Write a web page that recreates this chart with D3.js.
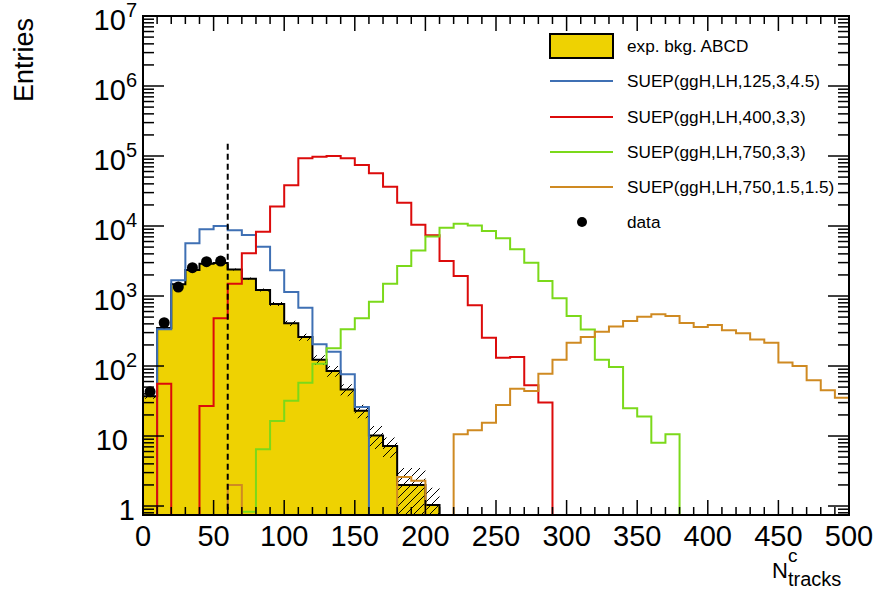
<!DOCTYPE html>
<html><head><meta charset="utf-8">
<script src="https://cdn.jsdelivr.net/npm/d3@7"></script>
<style>
body{margin:0;background:#fff}
svg{display:block}
text{font-family:"Liberation Sans",Arial,Helvetica,sans-serif;fill:#000}
</style>
</head><body>
<svg id="c" width="879" height="599"></svg>
<script>
// ---------------- data ----------------
const binLow = [0,10,20,30,40,50,60,70,80,90,100,110,120,130,140,150,160,170,180,190,
  200,210,220,230,240,250,260,270,280,290,300,310,320,330,340,350,360,370,380,390,
  400,410,420,430,440,450,460,470,480,490];
const binWidth = 10;

// exp. bkg. ABCD (bins 0..200)
const bkg = [37,350,1470,2350,2900,2950,2400,1770,1220,770,407,260,123,85,46,23,10.2,7.2,2.0,2.0,1.03];
const bkgErr = [3,10,40,60,70,70,80,70,60,50,35,30,20,15,9,5,3.7,2.3,1.5,1.5,0.8];

const sig125_3_45 = [0,335,1676,5660,8960,10000,8670,7430,5070,2330,1140,681,204,160,76,26];
const sig400_3_3 = [0,56,0,0,26.8,480,1500,4070,8300,19000,38100,92700,97800,100000,92700,74400,
  56500,36500,21500,10400,7400,3160,1930,736,254,131,134,53,30];
const sig750_3_3 = [0,0,0,0,0,0,0,0.83,6.45,16.4,32,57.8,108,179,334,480,830,1500,2690,4450,
  7100,9460,10800,10200,8480,6660,4640,2990,1640,927,518,332,123,97,25,19,8.0,10.6];
const sig750_15_15 = [0,0,0,0,0,0,2.0,0,0,0,0,0,0,0,0,0,0,0,2.6,2.3,0,0,10.6,12.1,15.5,27.7,47.4,44,
  77.6,123,215,260,309,367,439,504,547,518,410,361,385,324,293,240,215,112,100,62.4,45,35.3];

const dataBinLow = [0,10,20,30,40,50];
const dataVals = [43,415,1345,2540,3090,3160];

const cutX = 60;
const cutTop = 1.5e5;

const xMajorTicks = [0,50,100,150,200,250,300,350,400,450,500];
const yMajorTicks = [1,10,100,1e3,1e4,1e5,1e6,1e7];
const yTickBase = ["1","10","10","10","10","10","10","10"];
const yTickExp  = ["","","2","3","4","5","6","7"];

const legendLabels = ["exp. bkg. ABCD","SUEP(ggH,LH,125,3,4.5)","SUEP(ggH,LH,400,3,3)",
  "SUEP(ggH,LH,750,3,3)","SUEP(ggH,LH,750,1.5,1.5)","data"];

// ---------------- layout ----------------
const L = 143, R = 849, T = 16, B = 515;
const yMin = 0.744, yMax = 1e7;
const colors = {bkg:"#eed202", s1:"#3f70b4", s2:"#dc0b0b", s3:"#7bd91a", s4:"#cf8a22"};

const svg = d3.select("#c");
const x = d3.scaleLinear().domain([0,500]).range([L,R]);
const y = d3.scaleLog().domain([yMin,yMax]).range([B,T]);
const yv = v => y(Math.max(v, yMin));

svg.append("defs").append("clipPath").attr("id","clip")
  .append("rect").attr("x",L).attr("y",T).attr("width",R-L).attr("height",B-T);
const pat = svg.select("defs").append("pattern").attr("id","hatch")
  .attr("patternUnits","userSpaceOnUse").attr("width",8).attr("height",8);
pat.append("path").attr("d","M0,8 L8,0 M-2,2 L2,-2 M6,10 L10,6")
  .attr("stroke","#000").attr("stroke-width",1);

const plot = svg.append("g").attr("clip-path","url(#clip)");

function stepPts(vals){
  const pts = [[x(binLow[0]), B+2]];
  vals.forEach((v,i)=>{
    const yy = v>0 ? yv(v) : B+2;
    pts.push([x(binLow[i]), yy],[x(binLow[i]+binWidth), yy]);
  });
  pts.push([x(binLow[vals.length-1]+binWidth), B+2]);
  return pts;
}
const line = d3.line();

// bkg fill
plot.append("path").attr("d", line(stepPts(bkg))+"Z").attr("fill",colors.bkg).attr("stroke","none");

// hatch band
const bandPts = [];
bkg.forEach((v,i)=>{
  const top = yv(v+bkgErr[i]), bot = yv(Math.max(v-bkgErr[i], yMin*0.5));
  bandPts.push([x(binLow[i]),top,bot],[x(binLow[i]+binWidth),top,bot]);
});
plot.append("path").attr("d", d3.area().x(d=>d[0]).y0(d=>d[2]).y1(d=>d[1])(bandPts))
  .attr("fill","url(#hatch)").attr("stroke","none");

// bkg outline
plot.append("path").attr("d", line(stepPts(bkg))).attr("fill","none")
  .attr("stroke","#000").attr("stroke-width",2);

// signals
[[sig125_3_45,colors.s1],[sig400_3_3,colors.s2],[sig750_3_3,colors.s3],[sig750_15_15,colors.s4]]
.forEach(([vals,c])=>{
  plot.append("path").attr("d", line(stepPts(vals))).attr("fill","none")
    .attr("stroke",c).attr("stroke-width",2);
});

// dashed cut line
plot.append("line").attr("x1",x(cutX)).attr("x2",x(cutX)).attr("y1",y(cutTop)).attr("y2",B)
  .attr("stroke","#000").attr("stroke-width",2).attr("stroke-dasharray","6,4");

// data points
plot.selectAll("circle.d").data(dataVals).enter().append("circle")
  .attr("cx",(d,i)=>x(dataBinLow[i]+binWidth/2)).attr("cy",d=>y(d)).attr("r",5.5).attr("fill","#000");

// ---------------- axes ----------------
const xMinor = d3.range(0,501,10).filter(v=>v%50!==0);
const ax = svg.append("g").attr("stroke","#000").attr("stroke-width",1.5);
xMajorTicks.forEach(v=>{
  ax.append("line").attr("x1",x(v)).attr("x2",x(v)).attr("y1",B).attr("y2",B-15);
  ax.append("line").attr("x1",x(v)).attr("x2",x(v)).attr("y1",T).attr("y2",T+15);
});
xMinor.forEach(v=>{
  ax.append("line").attr("x1",x(v)).attr("x2",x(v)).attr("y1",B).attr("y2",B-8);
  ax.append("line").attr("x1",x(v)).attr("x2",x(v)).attr("y1",T).attr("y2",T+8);
});
const yMinor = [];
for(let d=-1; d<7; d++) for(let k=2;k<10;k++){ const v=k*Math.pow(10,d); if(v>=yMin && v<=yMax) yMinor.push(v); }
yMajorTicks.forEach(v=>{
  ax.append("line").attr("x1",L).attr("x2",L+21).attr("y1",y(v)).attr("y2",y(v));
  ax.append("line").attr("x1",R).attr("x2",R-21).attr("y1",y(v)).attr("y2",y(v));
});
yMinor.forEach(v=>{
  ax.append("line").attr("x1",L).attr("x2",L+11).attr("y1",y(v)).attr("y2",y(v));
  ax.append("line").attr("x1",R).attr("x2",R-11).attr("y1",y(v)).attr("y2",y(v));
});
svg.append("rect").attr("x",L).attr("y",T).attr("width",R-L).attr("height",B-T)
  .attr("fill","none").attr("stroke","#000").attr("stroke-width",2);

// x labels
svg.selectAll("text.xl").data(xMajorTicks).enter().append("text")
  .attr("x",d=>x(d)).attr("y",546).attr("text-anchor","middle")
  .style("font-size","29px").text(d=>d);

// y labels
yMajorTicks.forEach((v,i)=>{
  const rx = yTickExp[i] ? 137 : (yTickBase[i]==="10" ? 128 : 135);
  const t = svg.append("text").attr("x",rx).attr("y",y(v)+14).attr("text-anchor","end")
    .style("font-size","29px");
  t.append("tspan").text(yTickBase[i]);
  if(yTickExp[i]) t.append("tspan").attr("dy",-13).style("font-size","20px").text(yTickExp[i]);
});

// axis titles
svg.append("text").attr("transform","translate(33,18) rotate(-90)").attr("text-anchor","end")
  .style("font-size","27px").text("Entries");
const xt = svg.append("g");
xt.append("text").attr("x",772).attr("y",578).style("font-size","22px").text("N");
xt.append("text").attr("x",788).attr("y",562).style("font-size","19px").text("c");
xt.append("text").attr("x",788).attr("y",586).style("font-size","20px").text("tracks");

// ---------------- legend ----------------
const lg = svg.append("g");
const legY = [46,81,117,152,187,222];
const legKinds = ["box","line","line","line","line","dot"];
const legColors = [colors.bkg,colors.s1,colors.s2,colors.s3,colors.s4,"#000"];
legendLabels.forEach((lab,i)=>{
  const cy = legY[i];
  if(legKinds[i]==="box"){
    lg.append("rect").attr("x",550).attr("y",cy-12).attr("width",63).attr("height",24)
      .attr("fill",legColors[i]).attr("stroke","#000").attr("stroke-width",2);
  } else if(legKinds[i]==="line"){
    lg.append("line").attr("x1",550).attr("x2",613).attr("y1",cy).attr("y2",cy)
      .attr("stroke",legColors[i]).attr("stroke-width",2);
  } else {
    lg.append("circle").attr("cx",582).attr("cy",cy).attr("r",5).attr("fill","#000");
  }
  lg.append("text").attr("x",627).attr("y",cy+6).style("font-size","17.2px").text(lab);
});
</script>
</body></html>
